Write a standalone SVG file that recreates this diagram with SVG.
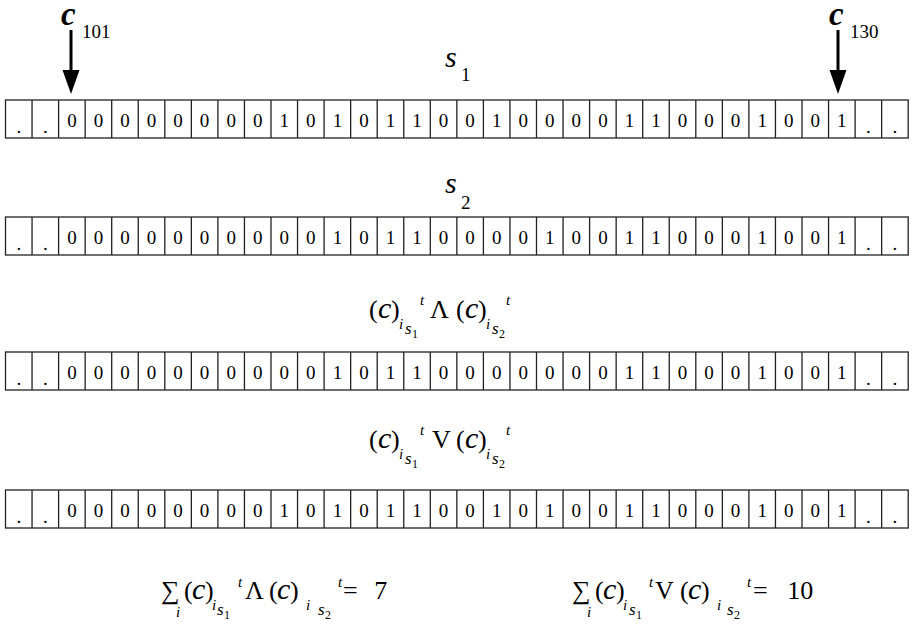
<svg xmlns="http://www.w3.org/2000/svg" xmlns:xlink="http://www.w3.org/1999/xlink" width="912" height="625" viewBox="0 0 912 625">
<style>
text{font-family:"Liberation Serif","DejaVu Serif",serif;fill:#000}
.d{font-size:19px;text-anchor:middle}
.p{font-size:19px;text-anchor:middle}
.big{font-size:33px;font-style:italic;font-weight:bold}
.sub{font-size:19px}
.m{font-size:26px}
.mc{font-size:30px;font-style:italic}
.si{font-size:15px;font-style:italic}
.ss{font-size:17px;font-style:italic}
.sn{font-size:12px}
.grid{fill:#fff;stroke:#222;stroke-width:1.3}
</style>
<defs>
<g id="grid">
<rect class="grid" x="5.5" y="0" width="902.7" height="38"/>
<path class="grid" fill="none" d="M32.05 0V38M58.6 0V38M85.15 0V38M111.7 0V38M138.25 0V38M164.8 0V38M191.35 0V38M217.9 0V38M244.45 0V38M271 0V38M297.55 0V38M324.1 0V38M350.65 0V38M377.2 0V38M403.75 0V38M430.3 0V38M456.85 0V38M483.4 0V38M509.95 0V38M536.5 0V38M563.05 0V38M589.6 0V38M616.15 0V38M642.7 0V38M669.25 0V38M695.8 0V38M722.35 0V38M748.9 0V38M775.45 0V38M802 0V38M828.55 0V38M855.1 0V38M881.65 0V38"/>
</g>
</defs>

<g id="connectors">
<line x1="71" y1="30" x2="71" y2="72" stroke="#000" stroke-width="3"/>
<polygon points="62.5,70 79.5,70 71,94" fill="#000"/>
<line x1="838" y1="30" x2="838" y2="72" stroke="#000" stroke-width="3"/>
<polygon points="829.5,70 846.5,70 838,94" fill="#000"/>
</g>

<g id="label-c101"><text class="big" x="61" y="25">c</text><text class="sub" x="82" y="38">101</text></g>
<g id="label-c130"><text class="big" x="829" y="25">c</text><text class="sub" x="850" y="38">130</text></g>

<g id="label-s1"><text class="mc" x="445" y="67">s</text><text class="sub" x="461" y="81">1</text></g>
<g id="label-s2"><text class="mc" x="445" y="193">s</text><text class="sub" x="461" y="209">2</text></g>

<g id="row-s1">
<use xlink:href="#grid" href="#grid" y="100"/>
<text class="p" x="18.8" y="133">.</text><text class="p" x="45.3" y="133">.</text>
<text class="d" x="71.9" y="127">0</text><text class="d" x="98.4" y="127">0</text><text class="d" x="125" y="127">0</text><text class="d" x="151.5" y="127">0</text><text class="d" x="178.1" y="127">0</text><text class="d" x="204.6" y="127">0</text><text class="d" x="231.2" y="127">0</text><text class="d" x="257.7" y="127">0</text><text class="d" x="284.3" y="127">1</text><text class="d" x="310.8" y="127">0</text><text class="d" x="337.4" y="127">1</text><text class="d" x="363.9" y="127">0</text><text class="d" x="390.5" y="127">1</text><text class="d" x="417" y="127">1</text><text class="d" x="443.6" y="127">0</text>
<text class="d" x="470.1" y="127">0</text><text class="d" x="496.7" y="127">1</text><text class="d" x="523.2" y="127">0</text><text class="d" x="549.8" y="127">0</text><text class="d" x="576.3" y="127">0</text><text class="d" x="602.9" y="127">0</text><text class="d" x="629.4" y="127">1</text><text class="d" x="656" y="127">1</text><text class="d" x="682.5" y="127">0</text><text class="d" x="709.1" y="127">0</text><text class="d" x="735.6" y="127">0</text><text class="d" x="762.2" y="127">1</text><text class="d" x="788.7" y="127">0</text><text class="d" x="815.3" y="127">0</text><text class="d" x="841.8" y="127">1</text>
<text class="p" x="868.4" y="133">.</text><text class="p" x="894.9" y="133">.</text>
</g>

<g id="row-s2">
<use xlink:href="#grid" href="#grid" y="217"/>
<text class="p" x="18.8" y="250">.</text><text class="p" x="45.3" y="250">.</text>
<text class="d" x="71.9" y="244">0</text><text class="d" x="98.4" y="244">0</text><text class="d" x="125" y="244">0</text><text class="d" x="151.5" y="244">0</text><text class="d" x="178.1" y="244">0</text><text class="d" x="204.6" y="244">0</text><text class="d" x="231.2" y="244">0</text><text class="d" x="257.7" y="244">0</text><text class="d" x="284.3" y="244">0</text><text class="d" x="310.8" y="244">0</text><text class="d" x="337.4" y="244">1</text><text class="d" x="363.9" y="244">0</text><text class="d" x="390.5" y="244">1</text><text class="d" x="417" y="244">1</text><text class="d" x="443.6" y="244">0</text>
<text class="d" x="470.1" y="244">0</text><text class="d" x="496.7" y="244">0</text><text class="d" x="523.2" y="244">0</text><text class="d" x="549.8" y="244">1</text><text class="d" x="576.3" y="244">0</text><text class="d" x="602.9" y="244">0</text><text class="d" x="629.4" y="244">1</text><text class="d" x="656" y="244">1</text><text class="d" x="682.5" y="244">0</text><text class="d" x="709.1" y="244">0</text><text class="d" x="735.6" y="244">0</text><text class="d" x="762.2" y="244">1</text><text class="d" x="788.7" y="244">0</text><text class="d" x="815.3" y="244">0</text><text class="d" x="841.8" y="244">1</text>
<text class="p" x="868.4" y="250">.</text><text class="p" x="894.9" y="250">.</text>
</g>

<g id="label-and">
<text class="m" x="369" y="318">(</text><text class="mc" x="378" y="318">c</text><text class="m" x="391" y="318">)</text>
<text class="si" x="399" y="329">i</text><text class="ss" x="405" y="334">s</text><text class="sn" x="412" y="338">1</text>
<text class="si" x="420" y="305">t</text>
<text class="m" x="430" y="318">Λ</text>
<text class="m" x="456" y="318">(</text><text class="mc" x="465" y="318">c</text><text class="m" x="478" y="318">)</text>
<text class="si" x="486" y="329">i</text><text class="ss" x="492" y="334">s</text><text class="sn" x="499" y="338">2</text>
<text class="si" x="506" y="305">t</text>
</g>

<g id="row-and">
<use xlink:href="#grid" href="#grid" y="352"/>
<text class="p" x="18.8" y="385">.</text><text class="p" x="45.3" y="385">.</text>
<text class="d" x="71.9" y="379">0</text><text class="d" x="98.4" y="379">0</text><text class="d" x="125" y="379">0</text><text class="d" x="151.5" y="379">0</text><text class="d" x="178.1" y="379">0</text><text class="d" x="204.6" y="379">0</text><text class="d" x="231.2" y="379">0</text><text class="d" x="257.7" y="379">0</text><text class="d" x="284.3" y="379">0</text><text class="d" x="310.8" y="379">0</text><text class="d" x="337.4" y="379">1</text><text class="d" x="363.9" y="379">0</text><text class="d" x="390.5" y="379">1</text><text class="d" x="417" y="379">1</text><text class="d" x="443.6" y="379">0</text>
<text class="d" x="470.1" y="379">0</text><text class="d" x="496.7" y="379">0</text><text class="d" x="523.2" y="379">0</text><text class="d" x="549.8" y="379">0</text><text class="d" x="576.3" y="379">0</text><text class="d" x="602.9" y="379">0</text><text class="d" x="629.4" y="379">1</text><text class="d" x="656" y="379">1</text><text class="d" x="682.5" y="379">0</text><text class="d" x="709.1" y="379">0</text><text class="d" x="735.6" y="379">0</text><text class="d" x="762.2" y="379">1</text><text class="d" x="788.7" y="379">0</text><text class="d" x="815.3" y="379">0</text><text class="d" x="841.8" y="379">1</text>
<text class="p" x="868.4" y="385">.</text><text class="p" x="894.9" y="385">.</text>
</g>

<g id="label-or">
<text class="m" x="369" y="448">(</text><text class="mc" x="378" y="448">c</text><text class="m" x="391" y="448">)</text>
<text class="si" x="399" y="459">i</text><text class="ss" x="405" y="464">s</text><text class="sn" x="412" y="468">1</text>
<text class="si" x="420" y="435">t</text>
<text class="m" x="432" y="448">V</text>
<text class="m" x="456" y="448">(</text><text class="mc" x="465" y="448">c</text><text class="m" x="478" y="448">)</text>
<text class="si" x="486" y="459">i</text><text class="ss" x="492" y="464">s</text><text class="sn" x="499" y="468">2</text>
<text class="si" x="506" y="435">t</text>
</g>

<g id="row-or">
<use xlink:href="#grid" href="#grid" y="490"/>
<text class="p" x="18.8" y="523">.</text><text class="p" x="45.3" y="523">.</text>
<text class="d" x="71.9" y="517">0</text><text class="d" x="98.4" y="517">0</text><text class="d" x="125" y="517">0</text><text class="d" x="151.5" y="517">0</text><text class="d" x="178.1" y="517">0</text><text class="d" x="204.6" y="517">0</text><text class="d" x="231.2" y="517">0</text><text class="d" x="257.7" y="517">0</text><text class="d" x="284.3" y="517">1</text><text class="d" x="310.8" y="517">0</text><text class="d" x="337.4" y="517">1</text><text class="d" x="363.9" y="517">0</text><text class="d" x="390.5" y="517">1</text><text class="d" x="417" y="517">1</text><text class="d" x="443.6" y="517">0</text>
<text class="d" x="470.1" y="517">0</text><text class="d" x="496.7" y="517">1</text><text class="d" x="523.2" y="517">0</text><text class="d" x="549.8" y="517">1</text><text class="d" x="576.3" y="517">0</text><text class="d" x="602.9" y="517">0</text><text class="d" x="629.4" y="517">1</text><text class="d" x="656" y="517">1</text><text class="d" x="682.5" y="517">0</text><text class="d" x="709.1" y="517">0</text><text class="d" x="735.6" y="517">0</text><text class="d" x="762.2" y="517">1</text><text class="d" x="788.7" y="517">0</text><text class="d" x="815.3" y="517">0</text><text class="d" x="841.8" y="517">1</text>
<text class="p" x="868.4" y="523">.</text><text class="p" x="894.9" y="523">.</text>
</g>

<g id="sum-and">
<text class="m" x="161" y="599">∑</text><text class="si" x="176" y="617">i</text>
<text class="m" x="184" y="599">(</text><text class="mc" x="192" y="599">c</text><text class="m" x="205" y="599">)</text>
<text class="si" x="212" y="610">i</text><text class="ss" x="217" y="615">s</text><text class="sn" x="224" y="619">1</text>
<text class="si" x="238" y="587">t</text>
<text class="m" x="245" y="599">Λ</text>
<text class="m" x="269" y="599">(</text><text class="mc" x="277" y="599">c</text><text class="m" x="290" y="599">)</text>
<text class="si" x="306" y="610">i</text><text class="ss" x="318" y="615">s</text><text class="sn" x="325" y="619">2</text>
<text class="si" x="338" y="587">t</text>
<text class="m" x="343" y="599" word-spacing="10">= 7</text>
</g>

<g id="sum-or">
<text class="m" x="572" y="599">∑</text><text class="si" x="587" y="617">i</text>
<text class="m" x="595" y="599">(</text><text class="mc" x="603" y="599">c</text><text class="m" x="616" y="599">)</text>
<text class="si" x="623" y="610">i</text><text class="ss" x="629" y="615">s</text><text class="sn" x="636" y="619">1</text>
<text class="si" x="649" y="587">t</text>
<text class="m" x="655" y="599">V</text>
<text class="m" x="680" y="599">(</text><text class="mc" x="688" y="599">c</text><text class="m" x="701" y="599">)</text>
<text class="si" x="717" y="610">i</text><text class="ss" x="727" y="615">s</text><text class="sn" x="734" y="619">2</text>
<text class="si" x="747" y="587">t</text>
<text class="m" x="753" y="599" word-spacing="13">= 10</text>
</g>
</svg>
